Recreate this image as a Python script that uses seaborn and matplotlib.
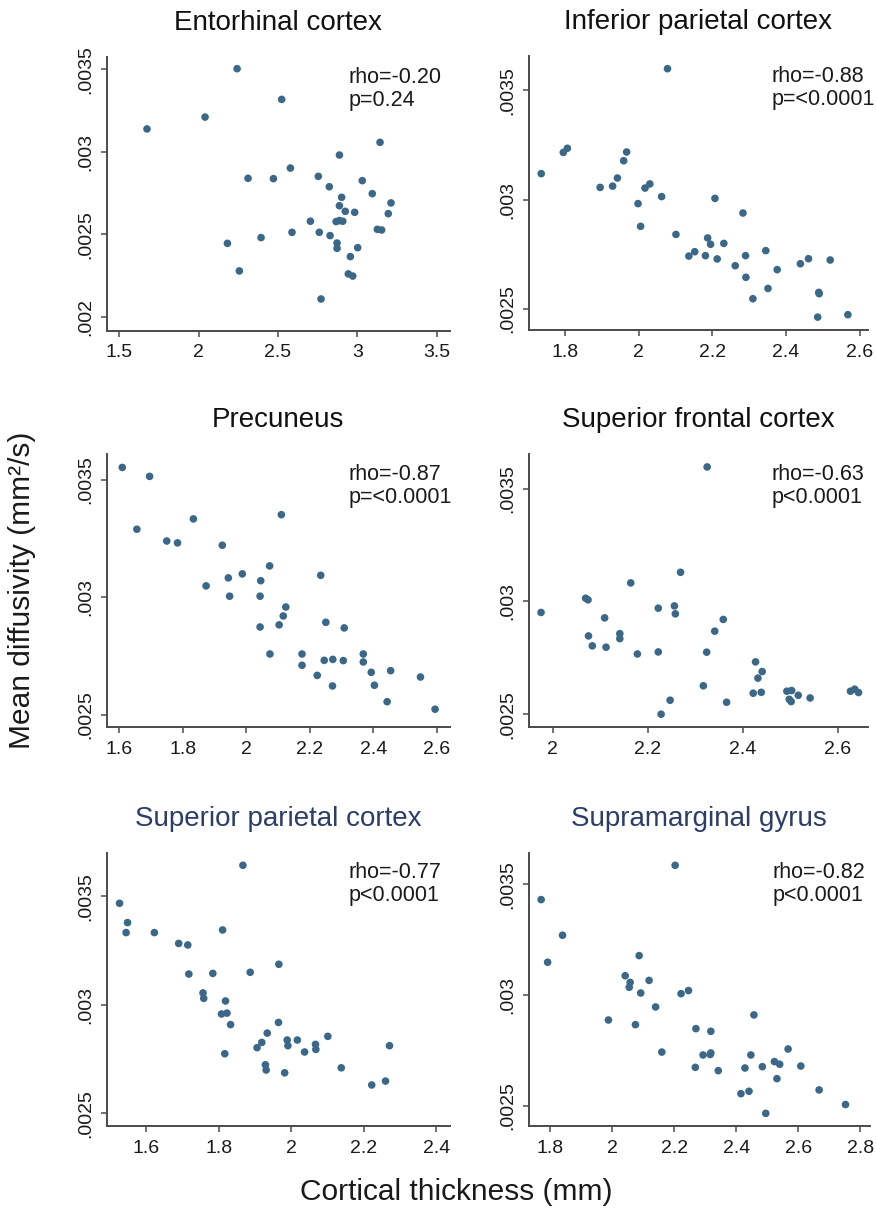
import matplotlib
matplotlib.use("Agg")
import matplotlib.pyplot as plt
import seaborn as sns
import pandas as pd

# ---- data: cortical thickness (mm) vs mean diffusivity (mm^2/s) per region ----
titles = ["Entorhinal cortex", "Inferior parietal cortex", "Precuneus",
          "Superior frontal cortex", "Superior parietal cortex", "Supramarginal gyrus"]
rho_text = ["rho=-0.20", "rho=-0.88", "rho=-0.87", "rho=-0.63", "rho=-0.77", "rho=-0.82"]
p_text = ["p=0.24", "p=<0.0001", "p=<0.0001", "p<0.0001", "p<0.0001", "p<0.0001"]

entorhinal_thk = [1.674, 2.040, 2.242, 2.523, 2.311, 2.471, 2.578, 2.754, 2.887, 3.143,
                  3.031, 2.823, 3.094, 2.901, 3.212, 2.887, 2.924, 2.983, 3.195, 2.704,
                  2.866, 2.908, 2.887, 3.126, 3.153, 2.588, 2.760, 2.828, 2.393, 2.181,
                  2.872, 2.872, 3.002, 2.956, 2.256, 2.943, 2.971, 2.771]
entorhinal_md = [0.003139, 0.003211, 0.003504, 0.003318, 0.002840, 0.002838, 0.002902,
                 0.002852, 0.002981, 0.003058, 0.002826, 0.002789, 0.002747, 0.002725,
                 0.002691, 0.002674, 0.002640, 0.002634, 0.002626, 0.002580, 0.002578,
                 0.002580, 0.002584, 0.002531, 0.002527, 0.002513, 0.002513, 0.002493,
                 0.002481, 0.002446, 0.002448, 0.002416, 0.002420, 0.002366, 0.002279,
                 0.002261, 0.002248, 0.002109]

infparietal_thk = [2.078, 1.735, 1.795, 1.806, 1.967, 1.959, 1.942, 1.929, 1.895, 2.017,
                   2.030, 2.062, 1.998, 2.207, 2.005, 2.283, 2.101, 2.187, 2.195, 2.231,
                   2.152, 2.136, 2.181, 2.213, 2.290, 2.345, 2.262, 2.291, 2.376, 2.439,
                   2.461, 2.520, 2.351, 2.310, 2.489, 2.490, 2.486, 2.568]
infparietal_md = [0.003599, 0.003119, 0.003216, 0.003235, 0.003218, 0.003178, 0.003099,
                  0.003062, 0.003056, 0.003053, 0.003072, 0.003014, 0.002982, 0.003006,
                  0.002878, 0.002939, 0.002841, 0.002825, 0.002796, 0.002800, 0.002762,
                  0.002742, 0.002744, 0.002729, 0.002744, 0.002767, 0.002698, 0.002645,
                  0.002680, 0.002707, 0.002730, 0.002724, 0.002594, 0.002547, 0.002576,
                  0.002570, 0.002463, 0.002474]

precuneus_thk = [1.609, 1.695, 1.655, 1.833, 1.749, 1.783, 1.924, 2.110, 2.073, 1.987,
                 1.943, 2.045, 1.873, 1.947, 2.043, 2.234, 2.124, 2.116, 2.103, 2.043,
                 2.250, 2.308, 2.074, 2.175, 2.175, 2.245, 2.272, 2.305, 2.368, 2.368,
                 2.223, 2.393, 2.454, 2.271, 2.403, 2.548, 2.443, 2.594]
precuneus_md = [0.003552, 0.003514, 0.003289, 0.003333, 0.003239, 0.003231, 0.003221,
                0.003351, 0.003133, 0.003099, 0.003082, 0.003070, 0.003048, 0.003004,
                0.003004, 0.003093, 0.002958, 0.002920, 0.002882, 0.002873, 0.002893,
                0.002869, 0.002758, 0.002758, 0.002710, 0.002731, 0.002735, 0.002730,
                0.002758, 0.002724, 0.002667, 0.002680, 0.002687, 0.002622, 0.002625,
                0.002660, 0.002555, 0.002523]

supfrontal_thk = [2.325, 1.975, 2.269, 2.164, 2.069, 2.074, 2.222, 2.256, 2.258, 2.109,
                  2.359, 2.341, 2.141, 2.141, 2.075, 2.083, 2.112, 2.178, 2.222, 2.324,
                  2.427, 2.441, 2.432, 2.317, 2.422, 2.439, 2.493, 2.503, 2.517, 2.498,
                  2.502, 2.542, 2.247, 2.366, 2.228, 2.627, 2.636, 2.644]
supfrontal_md = [0.003596, 0.002951, 0.003129, 0.003082, 0.003014, 0.003007, 0.002970,
                 0.002980, 0.002945, 0.002927, 0.002920, 0.002868, 0.002857, 0.002835,
                 0.002847, 0.002803, 0.002797, 0.002767, 0.002776, 0.002775, 0.002732,
                 0.002689, 0.002660, 0.002626, 0.002593, 0.002597, 0.002602, 0.002605,
                 0.002584, 0.002566, 0.002556, 0.002572, 0.002562, 0.002553, 0.002500,
                 0.002602, 0.002611, 0.002596]

supparietal_thk = [1.867, 1.527, 1.549, 1.545, 1.623, 1.811, 1.690, 1.715, 1.718, 1.784,
                   1.887, 1.966, 1.757, 1.759, 1.819, 1.808, 1.823, 1.833, 1.965, 1.934,
                   1.919, 1.906, 1.817, 1.989, 1.991, 2.017, 2.037, 2.067, 2.068, 2.101,
                   1.929, 1.931, 1.982, 2.138, 2.222, 2.260, 2.271]
supparietal_md = [0.003643, 0.003468, 0.003379, 0.003333, 0.003333, 0.003345, 0.003283,
                  0.003276, 0.003142, 0.003145, 0.003150, 0.003187, 0.003055, 0.003030,
                  0.003018, 0.002958, 0.002962, 0.002909, 0.002919, 0.002870, 0.002827,
                  0.002803, 0.002775, 0.002838, 0.002812, 0.002838, 0.002783, 0.002818,
                  0.002795, 0.002855, 0.002724, 0.002700, 0.002687, 0.002710, 0.002631,
                  0.002649, 0.002812]

supramarginal_thk = [2.203, 1.771, 1.840, 1.792, 2.087, 2.042, 2.058, 2.055, 2.119, 2.092,
                     2.222, 2.246, 2.140, 1.988, 2.075, 2.457, 2.270, 2.318, 2.160, 2.293,
                     2.318, 2.316, 2.447, 2.567, 2.268, 2.342, 2.428, 2.484, 2.523, 2.540,
                     2.608, 2.531, 2.415, 2.441, 2.667, 2.495, 2.752]
supramarginal_md = [0.003586, 0.003431, 0.003270, 0.003148, 0.003178, 0.003087, 0.003057,
                    0.003035, 0.003066, 0.003009, 0.003006, 0.003020, 0.002946, 0.002887,
                    0.002866, 0.002910, 0.002848, 0.002836, 0.002742, 0.002729, 0.002738,
                    0.002731, 0.002729, 0.002756, 0.002673, 0.002658, 0.002670, 0.002676,
                    0.002699, 0.002687, 0.002679, 0.002622, 0.002554, 0.002565, 0.002571,
                    0.002465, 0.002505]

# ---- axis ticks ----
xticks_entorhinal = [1.5, 2, 2.5, 3, 3.5]
xlabels_entorhinal = ["1.5", "2", "2.5", "3", "3.5"]
xticks_16_26 = [1.6, 1.8, 2, 2.2, 2.4, 2.6]
xlabels_16_26 = ["1.6", "1.8", "2", "2.2", "2.4", "2.6"]
xticks_18_26 = [1.8, 2, 2.2, 2.4, 2.6]
xlabels_18_26 = ["1.8", "2", "2.2", "2.4", "2.6"]
xticks_20_26 = [2, 2.2, 2.4, 2.6]
xlabels_20_26 = ["2", "2.2", "2.4", "2.6"]
xticks_16_24 = [1.6, 1.8, 2, 2.2, 2.4]
xlabels_16_24 = ["1.6", "1.8", "2", "2.2", "2.4"]
xticks_18_28 = [1.8, 2, 2.2, 2.4, 2.6, 2.8]
xlabels_18_28 = ["1.8", "2", "2.2", "2.4", "2.6", "2.8"]
yticks_full = [0.002, 0.0025, 0.003, 0.0035]
ylabels_full = [".002", ".0025", ".003", ".0035"]
yticks_short = [0.0025, 0.003, 0.0035]
ylabels_short = [".0025", ".003", ".0035"]

POINT = "#3b6888"
AXIS = "#4a4a4a"
NAVY = "#2c3d6b"

sns.set_style("ticks")
plt.rcParams["font.family"] = ["Liberation Sans", "DejaVu Sans"]

W, H = 876, 1209
fig = plt.figure(figsize=(W / 100, H / 100), dpi=100)
fig.patch.set_facecolor("white")

# layout in pixels: (left, right, top, bottom)
boxes = [(106.7, 450.0, 57.3, 330.7), (528.7, 868.3, 56.0, 330.0),
         (106.7, 450.0, 454.3, 727.3), (528.7, 868.3, 454.3, 727.3),
         (106.7, 450.0, 852.7, 1126.0), (528.7, 870.0, 852.7, 1126.0)]
limits = [((1.42, 3.584), (0.001917, 0.003573)),
          ((1.701, 2.6235), (0.002404, 0.003657)),
          ((1.560, 2.641), (0.002446, 0.003608)),
          ((1.949, 2.6646), (0.002442, 0.003652)),
          ((1.4916, 2.4377), (0.002442, 0.003701)),
          ((1.731, 2.831), (0.002408, 0.003643))]
xs = [entorhinal_thk, infparietal_thk, precuneus_thk, supfrontal_thk,
      supparietal_thk, supramarginal_thk]
ys = [entorhinal_md, infparietal_md, precuneus_md, supfrontal_md,
      supparietal_md, supramarginal_md]
xt = [(xticks_entorhinal, xlabels_entorhinal), (xticks_18_26, xlabels_18_26),
      (xticks_16_26, xlabels_16_26), (xticks_20_26, xlabels_20_26),
      (xticks_16_24, xlabels_16_24), (xticks_18_28, xlabels_18_28)]
yt = [(yticks_full, ylabels_full)] + [(yticks_short, ylabels_short)] * 5
title_colors = ["#111111", "#111111", "#111111", "#111111", NAVY, NAVY]

PX = 72 / 100  # points per pixel

for i in range(6):
    l, r, t, b = boxes[i]
    ax = fig.add_axes([l / W, 1 - b / H, (r - l) / W, (b - t) / H])
    df = pd.DataFrame({"thickness": xs[i], "md": ys[i]})
    sns.scatterplot(data=df, x="thickness", y="md", ax=ax, color=POINT,
                    s=30, edgecolor="none", linewidth=0, zorder=3)
    ax.set_xlim(*limits[i][0])
    ax.set_ylim(*limits[i][1])
    ax.set_xticks(xt[i][0])
    ax.set_xticklabels(xt[i][1])
    ax.set_yticks(yt[i][0])
    ax.set_yticklabels(yt[i][1], rotation=90, va="center")
    ax.set_xlabel("")
    ax.set_ylabel("")
    sns.despine(ax=ax)
    for side in ("left", "bottom"):
        ax.spines[side].set_linewidth(1.4)
        ax.spines[side].set_color(AXIS)
    ax.tick_params(axis="both", length=6 * PX, width=1.1, color=AXIS,
                   labelsize=14, labelcolor="#1a1a1a")
    ax.tick_params(axis="x", pad=5.5)
    ax.tick_params(axis="y", pad=5)
    ax.set_facecolor("white")

    ax.annotate(titles[i], xy=(0.5, 1), xycoords="axes fraction",
                xytext=(0, 34 * PX), textcoords="offset points",
                ha="center", va="center", fontsize=20, color=title_colors[i])
    tx = 0.704 if i % 2 == 0 else 0.7155
    ax.annotate(rho_text[i], xy=(tx, 1), xycoords="axes fraction",
                xytext=(0, -20 * PX), textcoords="offset points",
                ha="left", va="center", fontsize=15.5, color="#1a1a1a")
    ax.annotate(p_text[i], xy=(tx, 1), xycoords="axes fraction",
                xytext=(0, -43 * PX), textcoords="offset points",
                ha="left", va="center", fontsize=15.5, color="#1a1a1a")

fig.text(22 / W, 1 - 590 / H, "Mean diffusivity (mm²/s)", rotation=90,
         ha="center", va="center", fontsize=21.5, color="#1a1a1a")
fig.text(456 / W, 1 - 1192 / H, "Cortical thickness (mm)",
         ha="center", va="center", fontsize=21.5, color="#1a1a1a")

fig.savefig("out.png", dpi=100, facecolor="white")
